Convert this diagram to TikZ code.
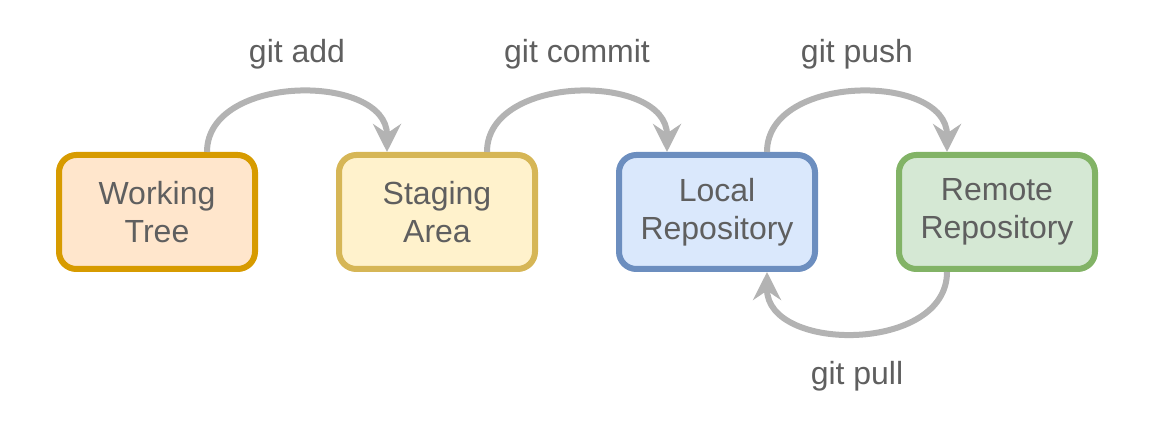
\documentclass[tikz,border=0pt]{standalone}
\usepackage{fontspec}
\setmainfont{Liberation Sans}
\usetikzlibrary{positioning, calc, arrows.meta}

\definecolor{txtgray}{HTML}{5F5F5F}
\definecolor{flowgray}{HTML}{B3B3B3}
\definecolor{wtfill}{HTML}{FFE6CC}
\definecolor{wtdraw}{HTML}{D79B00}
\definecolor{safill}{HTML}{FFF2CC}
\definecolor{sadraw}{HTML}{D6B656}
\definecolor{lrfill}{HTML}{DAE8FC}
\definecolor{lrdraw}{HTML}{6C8EBF}
\definecolor{rrfill}{HTML}{D5E8D4}
\definecolor{rrdraw}{HTML}{82B366}

\begin{document}
\begin{tikzpicture}[x=0.75pt, y=0.75pt,
    box/.style={rectangle, rounded corners=13pt, line width=4.5pt,
      minimum width=147pt, minimum height=85.5pt, align=center,
      text=txtgray, font=\fontsize{24}{28.3}\selectfont},
    cmd/.style={text=txtgray, font=\fontsize{24}{28.3}\selectfont},
    flow/.style={draw=flowgray, line width=4.5pt,
      -{Stealth[length=21pt, width=21pt, inset=7pt]}},
    node distance=58.5pt]
  \useasboundingbox (0,0) rectangle (1150,436);
  \def\off{37.5pt} % shift of arrow ends from box centre
  % the four areas
  \node[box, fill=wtfill, draw=wtdraw] (wt) at (157,224) {Working\\Tree};
  \node[box, fill=safill, draw=sadraw, right=of wt] (sa) {Staging\\Area};
  \node[box, fill=lrfill, draw=lrdraw, right=of sa] (lr) {Local\\Repository};
  \node[box, fill=rrfill, draw=rrdraw, right=of lr] (rr) {Remote\\Repository};
  % commands along the top
  \draw[flow] ([xshift=\off]wt.north) .. controls +(0,79) and +(0,79) .. ([xshift=-\off]sa.north);
  \draw[flow] ([xshift=\off]sa.north) .. controls +(0,79) and +(0,79) .. ([xshift=-\off]lr.north);
  \draw[flow] ([xshift=\off]lr.north) .. controls +(0,79) and +(0,79) .. ([xshift=-\off]rr.north);
  % and back underneath
  \draw[flow] ([xshift=-\off]rr.south) .. controls +(0,-81) and +(0,-81) .. ([xshift=\off]lr.south);
  \node[cmd] (add) at ($(wt.north)!0.5!(sa.north)+(0,98)$) {git add};
  \node[cmd] (commit) at ($(sa.north)!0.5!(lr.north)+(0,98)$) {git commit};
  \node[cmd] (push) at ($(lr.north)!0.5!(rr.north)+(0,98)$) {git push};
  \node[cmd] (pull) at ($(lr.south)!0.5!(rr.south)+(0,-104)$) {git pull};
\end{tikzpicture}
\end{document}
